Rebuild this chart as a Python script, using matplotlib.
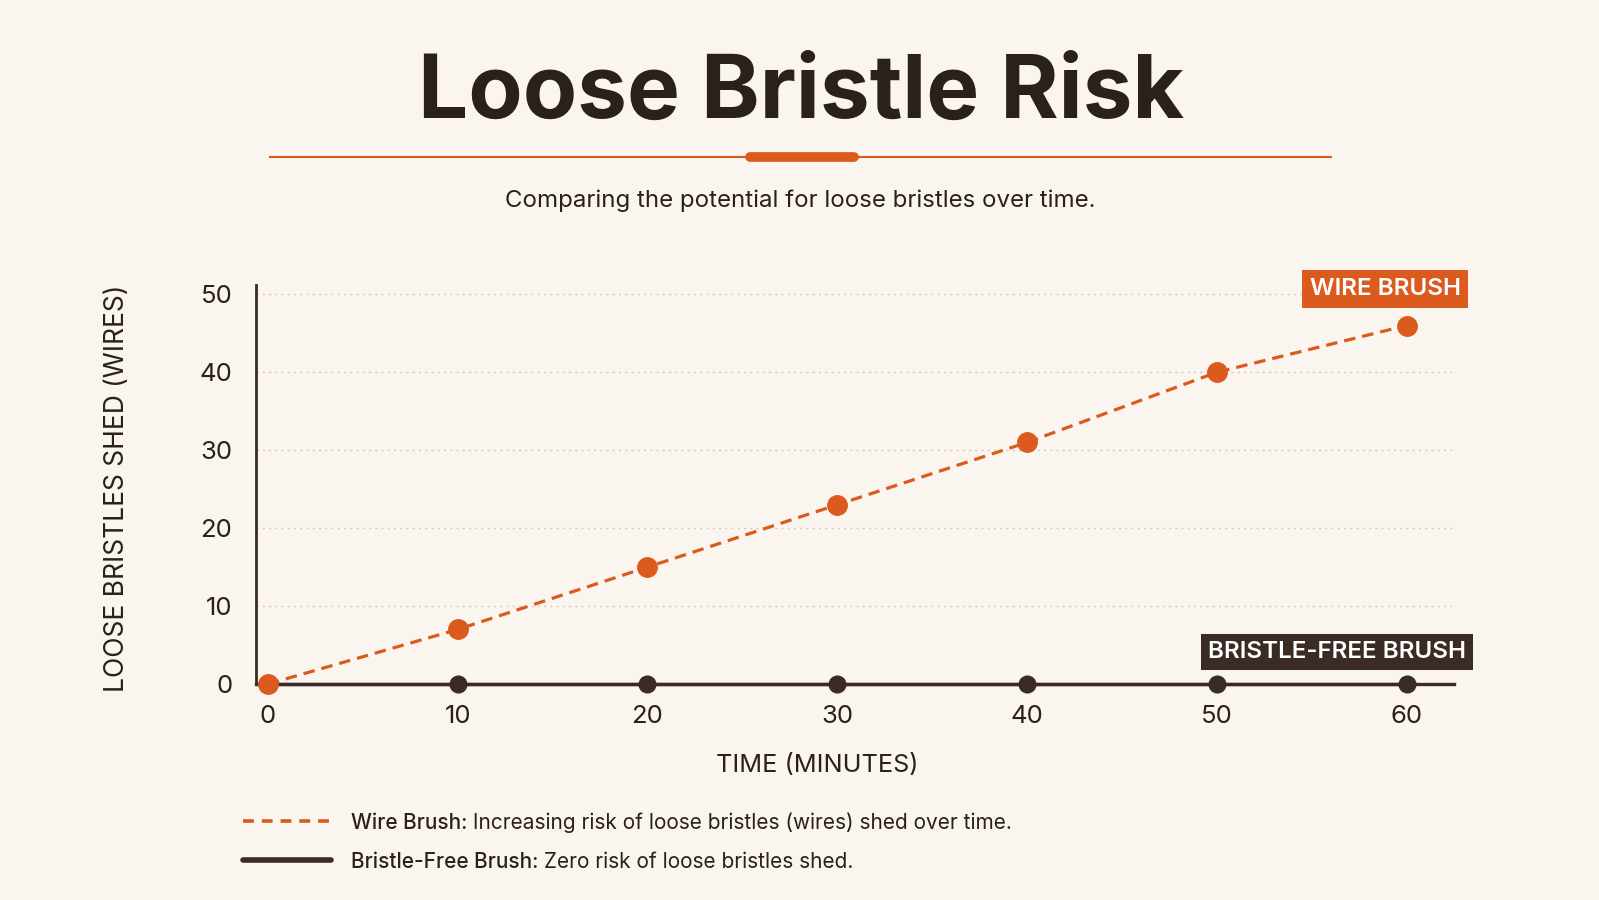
import matplotlib
matplotlib.use('Agg')
import matplotlib.pyplot as plt
from matplotlib.lines import Line2D

######################### DATA ################################################

minutes = [0, 10, 20, 30, 40, 50, 60]
wire_shed = [0, 7, 15, 23, 31, 40, 46]
free_shed = [0, 0, 0, 0, 0, 0, 0]
yticks = [0, 10, 20, 30, 40, 50]
xticks = [0, 10, 20, 30, 40, 50, 60]

title = 'Loose Bristle Risk'
subtitle = 'Comparing the potential for loose bristles over time.'
xlab = 'TIME (MINUTES)'
ylab = 'LOOSE BRISTLES SHED (WIRES)'
legend_bold = ['Wire Brush:', 'Bristle-Free Brush:']
legend_text = [' Increasing risk of loose bristles (wires) shed over time.',
               ' Zero risk of loose bristles shed.']

######################### FIG PARAMS ##########################################

bg = '#FAF5EE'
orange = '#DB5A1D'
dark = '#3A2B24'
txt = '#2B211C'
grid = '#D3CBC2'
W, H = 1599, 900

plt.rcParams['font.family'] = ['Inter', 'DejaVu Sans']

def fx(px):
    return px / W

def fy(py):
    return 1 - py / H

fig = plt.figure(figsize=(W / 100, H / 100), dpi=100, facecolor=bg)

# axes: left spine at 256px, right end 1454px, y=0 at 684px, top at 285px
ax_l, ax_r, ax_b, ax_t = 256, 1454, 684, 285
ax = fig.add_axes([fx(ax_l), fy(ax_b), fx(ax_r) - fx(ax_l), fy(ax_t) - fy(ax_b)])
ax.set_facecolor(bg)
ax.set_xlim(-0.63, 62.5)
ax.set_ylim(0, 51.2)

for y in yticks[1:]:
    ax.axhline(y, color=grid, lw=1.0, ls=(0, (1.5, 3)), zorder=1)

ax.plot(minutes, free_shed, color=dark, lw=2.4, marker='o', ms=12,
        zorder=4, clip_on=False)
ax.plot(minutes, wire_shed, color=orange, lw=2.3, ls=(0, (3.6, 2.2)),
        marker='o', ms=14, zorder=5, clip_on=False)

for s in ['top', 'right']:
    ax.spines[s].set_visible(False)
ax.spines['left'].set_color(dark)
ax.spines['left'].set_linewidth(2.0)
ax.spines['bottom'].set_color(dark)
ax.spines['bottom'].set_linewidth(2.4)
ax.spines['bottom'].set_zorder(3)

ax.set_xticks(xticks)
ax.set_yticks(yticks)
ax.tick_params(length=0, labelsize=18.5, colors=txt)
ax.tick_params(axis='x', pad=15)
ax.tick_params(axis='y', pad=17)
ax.set_xlabel(xlab, fontsize=18.2, color=txt)
ax.set_ylabel(ylab, fontsize=19, color=txt)
# labels sit at figure centre / axes middle as in the reference
ax.xaxis.set_label_coords((817 - ax_l) / (ax_r - ax_l), -0.175)
ax.yaxis.set_label_coords(-(ax_l - 130) / (ax_r - ax_l), 0.49)

# series tags
fig.text(fx(1385), fy(289), 'WIRE BRUSH', ha='center', va='center',
         fontsize=17.4, fontweight='semibold', color='white',
         bbox=dict(boxstyle='square,pad=0.33', fc=orange, ec='none'))
fig.text(fx(1337), fy(652), 'BRISTLE-FREE BRUSH', ha='center', va='center',
         fontsize=17.4, fontweight='semibold', color='white',
         bbox=dict(boxstyle='square,pad=0.3', fc=dark, ec='none'))

# title block
fig.text(fx(801), fy(95), title, ha='center', va='center', fontsize=64,
         fontweight='bold', color=txt)
fig.add_artist(Line2D([fx(270), fx(1331)], [fy(157), fy(157)],
                      color=orange, lw=1.5))
fig.add_artist(Line2D([fx(750), fx(854)], [fy(157), fy(157)],
                      color=orange, lw=7, solid_capstyle='round'))
fig.text(fx(800), fy(201), subtitle, ha='center', va='center', fontsize=17.3,
         color=txt)

# legend
fig.add_artist(Line2D([fx(243), fx(331)], [fy(821), fy(821)], color=orange,
                      lw=2.6, ls=(0, (3, 2.2))))
fig.add_artist(Line2D([fx(243), fx(331)], [fy(860), fy(860)], color=dark,
                      lw=4, solid_capstyle='round'))
r = fig.canvas.get_renderer()
for i, yy in enumerate([821, 860]):
    t1 = fig.text(fx(351), fy(yy), legend_bold[i], ha='left', va='center_baseline',
                  fontsize=15, fontweight='medium', color=txt)
    bb = t1.get_window_extent(renderer=r)
    fig.text(bb.x1 / W, fy(yy), legend_text[i], ha='left', va='center_baseline',
             fontsize=15, color=txt)

plt.savefig('out.png', dpi=100, facecolor=bg)
plt.close()
